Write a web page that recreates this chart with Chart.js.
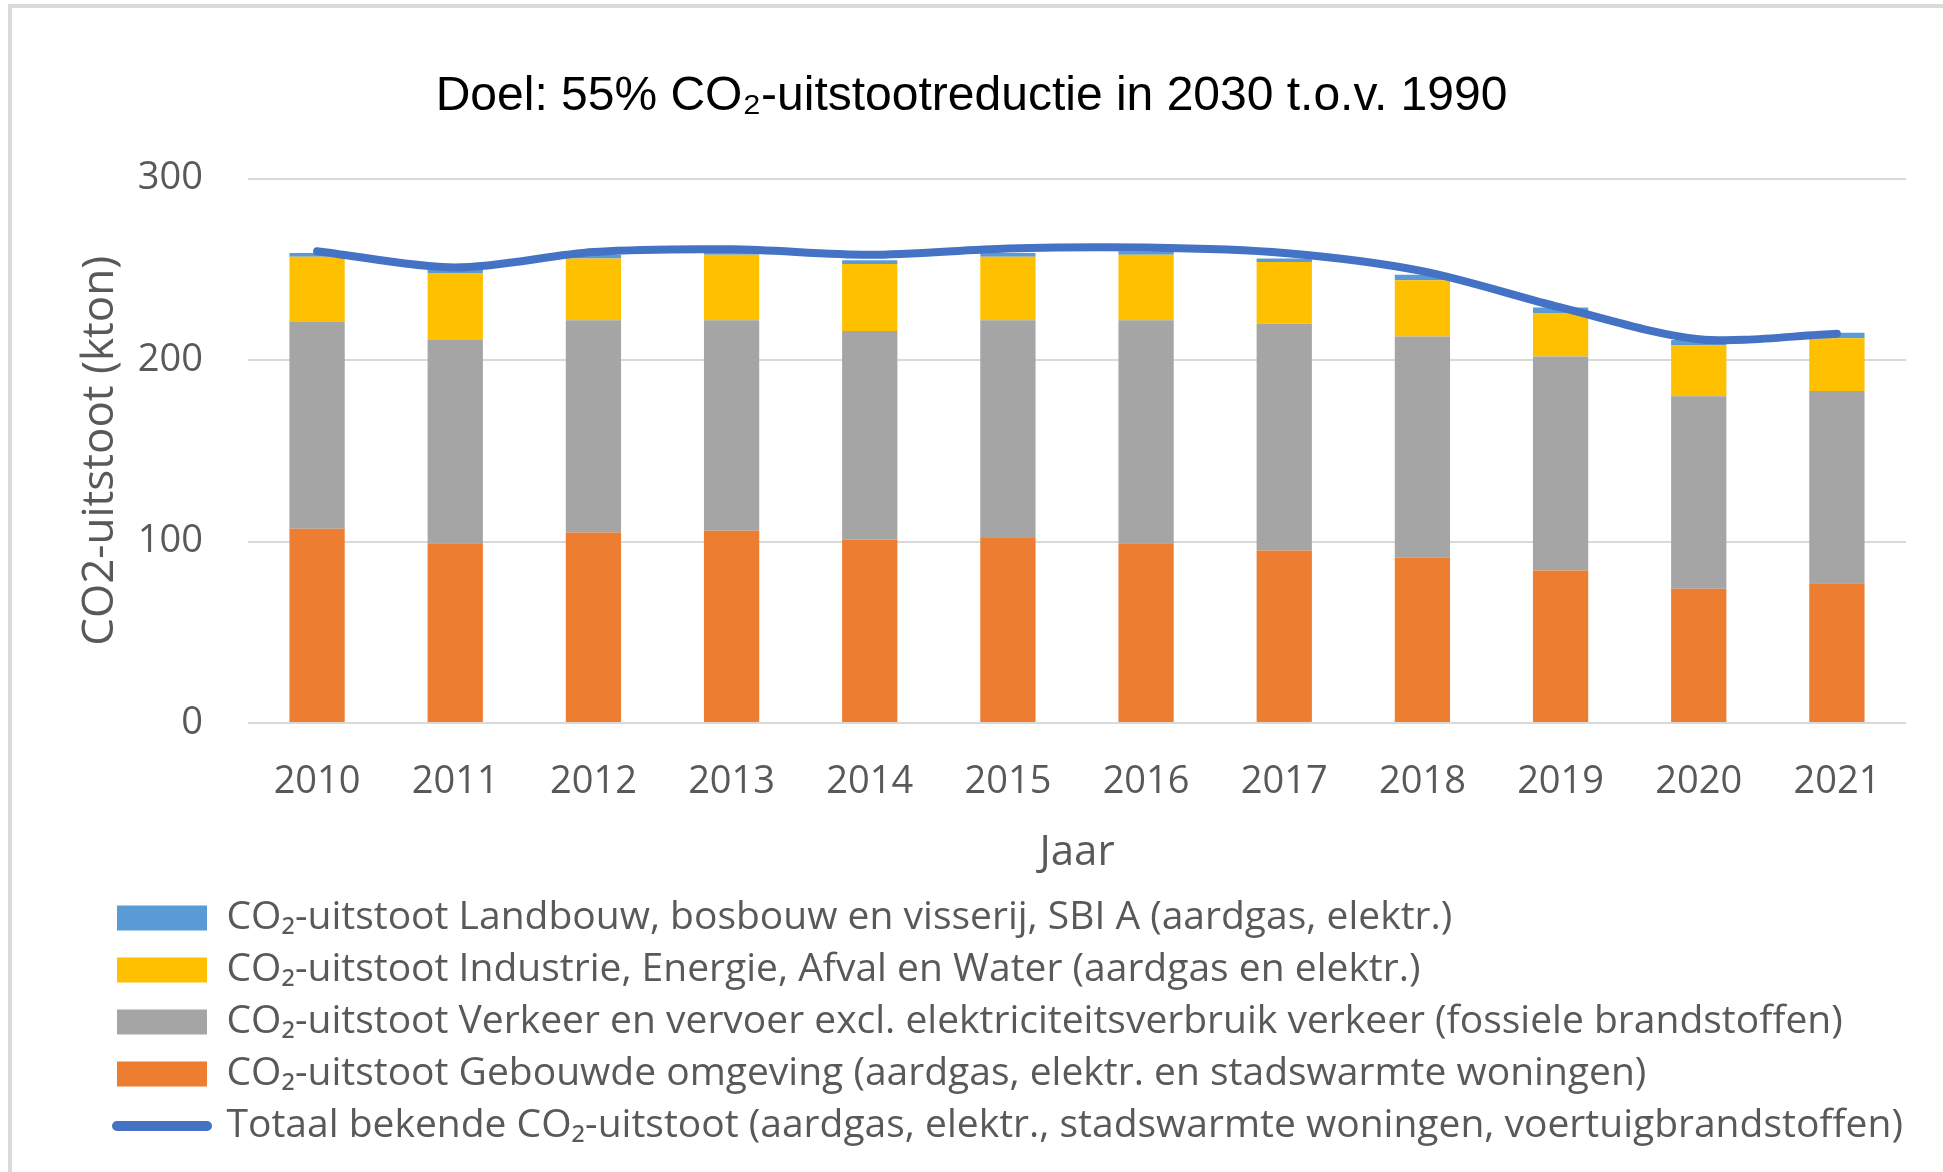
<!DOCTYPE html>
<html>
<head>
<meta charset="utf-8">
<script src="https://cdn.jsdelivr.net/npm/chart.js@4"></script>
<style>
  html, body { margin: 0; padding: 0; background: #fff; }
  #wrap { position: relative; width: 1943px; height: 1172px; }
  #frame { position: absolute; left: 8px; top: 4px; right: 0; bottom: 0;
           border-top: 4px solid #dadada; border-left: 4px solid #dadada; }
  canvas { position: absolute; left: 0; top: 0; }
</style>
</head>
<body>
<div id="wrap">
  <div id="frame"></div>
  <canvas id="myChart" width="1943" height="1172"></canvas>
</div>
<script>
// years on the x axis
const years = ['2010', '2011', '2012', '2013', '2014', '2015', '2016', '2017', '2018', '2019', '2020', '2021'];

// kton CO2 per sector (stack pieces)
const gebouwd = [107, 99, 105, 106, 101, 102, 99, 95, 91, 84, 74, 77];
const verkeer = [114, 112, 117, 116, 115, 120, 123, 125, 122, 118, 106, 106];
const industrie = [36, 37, 34, 36, 37, 35, 36, 34, 31, 24, 28, 29];
const landbouw = [2, 2, 2, 2, 2, 2, 2, 2, 3, 3, 3, 3];
const totaal = [260, 251, 259.5, 261, 258, 261.5, 262, 259, 249, 229, 211.5, 214.5];

const yTicks = [0, 100, 200, 300];

const txt = '#595959';
const sans = "'Open Sans', sans-serif";

const data = {
    labels: years,
    datasets: [
        {
            type: 'line',
            label: 'Totaal bekende CO\u2082-uitstoot (aardgas, elektr., stadswarmte woningen, voertuigbrandstoffen)',
            data: totaal,
            borderColor: '#4472C4',
            backgroundColor: '#4472C4',
            borderWidth: 8,
            borderCapStyle: 'round',
            pointRadius: 0,
            tension: 0.3,
            order: 0
        },
        {
            label: 'CO\u2082-uitstoot Gebouwde omgeving (aardgas, elektr. en stadswarmte woningen)',
            data: gebouwd,
            backgroundColor: '#ED7D31',
            order: 1
        },
        {
            label: 'CO\u2082-uitstoot Verkeer en vervoer excl. elektriciteitsverbruik verkeer (fossiele brandstoffen)',
            data: verkeer,
            backgroundColor: '#A5A5A5',
            order: 1
        },
        {
            label: 'CO\u2082-uitstoot Industrie, Energie, Afval en Water (aardgas en elektr.)',
            data: industrie,
            backgroundColor: '#FFC000',
            order: 1
        },
        {
            label: 'CO\u2082-uitstoot Landbouw, bosbouw en visserij, SBI A (aardgas, elektr.)',
            data: landbouw,
            backgroundColor: '#5B9BD5',
            order: 1
        }
    ]
};

// legend order in the picture: blue, yellow, gray, orange, then the line
const legendOrder = [4, 3, 2, 1, 0];

// move the legend so the boxes start where they do in the picture
const legendShift = {
    id: 'legendShift',
    afterLayout(chart) {
        chart.legend.left = 104;
    }
};

const config = {
    type: 'bar',
    data: data,
    plugins: [legendShift],
    options: {
        responsive: false,
        animation: false,
        layout: { padding: { bottom: 16.5 } },
        datasets: { bar: { barPercentage: 0.4, categoryPercentage: 1 } },
        scales: {
            x: {
                stacked: true,
                grid: { display: false },
                border: { display: false },
                ticks: { color: txt, font: { family: sans, size: 38 }, padding: 28.5 },
                title: {
                    display: true, text: 'Jaar', color: txt,
                    font: { family: sans, size: 42 },
                    padding: { top: -5.5, bottom: 7 }
                }
            },
            y: {
                stacked: true,
                min: 0,
                max: 300,
                afterBuildTicks: s => { s.ticks = yTicks.map(v => ({ value: v })); },
                afterFit: s => { s.width = 248; },
                grid: { color: '#d9d9d9', lineWidth: 2, drawTicks: false },
                border: { display: false },
                ticks: { color: txt, font: { family: sans, size: 38 }, padding: 45 },
                title: {
                    display: true, text: 'CO2-uitstoot (kton)', color: txt,
                    font: { family: sans, size: 44 },
                    padding: { top: 74, bottom: 0 }
                }
            },
            y2: {
                position: 'right',
                display: true,
                grid: { display: false },
                border: { display: false },
                ticks: { display: false },
                afterFit: s => { s.width = 37; }
            }
        },
        plugins: {
            title: {
                display: true,
                text: 'Doel: 55% CO\u2082-uitstootreductie in 2030 t.o.v. 1990',
                color: '#000',
                font: { family: "'Liberation Sans', Arial, sans-serif", size: 48, weight: 'normal' },
                padding: { top: 68, bottom: 53 }
            },
            legend: {
                position: 'bottom',
                align: 'start',
                labels: {
                    color: txt,
                    font: { family: sans, size: 39 },
                    usePointStyle: true,
                    pointStyleWidth: 90,
                    boxHeight: 25,
                    padding: 13,
                    generateLabels: chart => legendOrder.map(i => {
                        const ds = chart.data.datasets[i];
                        const isLine = ds.type === 'line';
                        return {
                            text: ds.label,
                            datasetIndex: i,
                            fillStyle: ds.backgroundColor,
                            strokeStyle: isLine ? ds.borderColor : ds.backgroundColor,
                            lineWidth: isLine ? 10 : 0,
                            lineCap: 'round',
                            pointStyle: isLine ? 'line' : 'rect',
                            fontColor: txt,
                            hidden: false
                        };
                    })
                }
            },
            tooltip: { enabled: false }
        }
    }
};

const myChart = new Chart(
    document.getElementById('myChart'),
    config
);
</script>
</body>
</html>
